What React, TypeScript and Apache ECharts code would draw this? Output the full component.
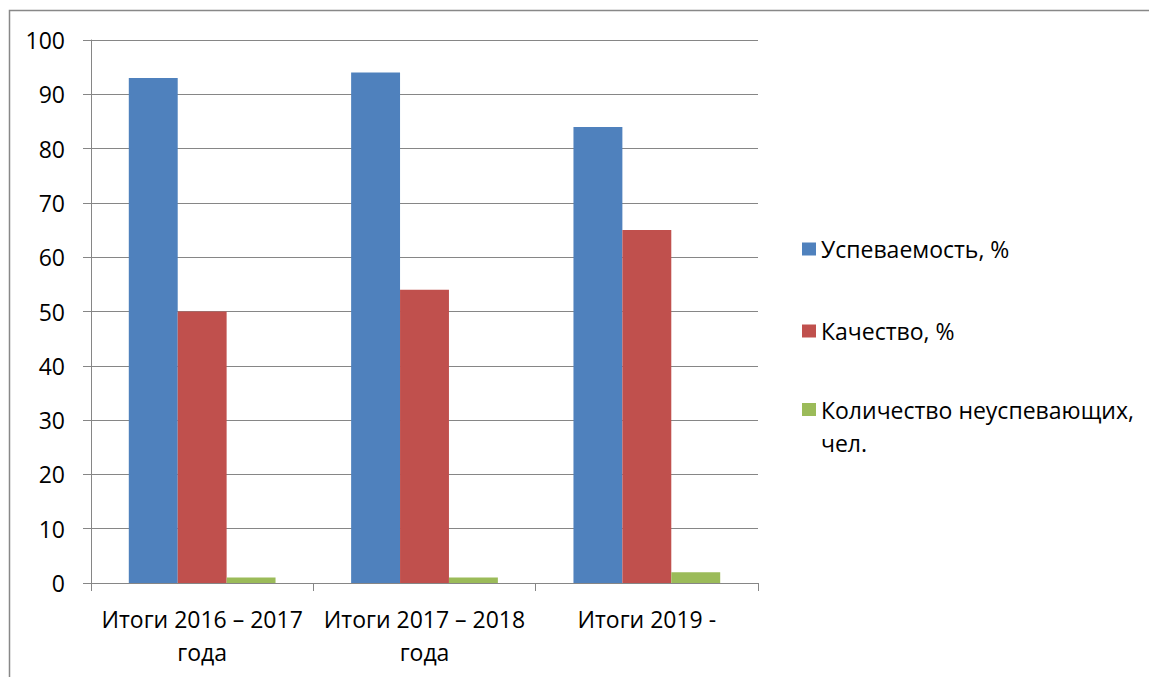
import React, { useEffect, useRef } from "react";
import * as echarts from "echarts";

const categories = ["Итоги 2016 – 2017\nгода", "Итоги 2017 – 2018\nгода", "Итоги 2019 -"];
const seriesNames = ["Успеваемость, %", "Качество, %", "Количество неуспевающих, чел."];
const uspevaemost = [93, 94, 84];
const kachestvo = [50, 54, 65];
const neuspev = [1, 1, 2];
const yTicks = [0, 10, 20, 30, 40, 50, 60, 70, 80, 90, 100];

const colors = ["#4F81BD", "#C0504D", "#9BBB59"];
const FONT = "Open Sans";
const FS = 23;

export default function App() {
  const ref = useRef<HTMLDivElement>(null);
  useEffect(() => {
    document.body.style.margin = "0";
    const chart = echarts.init(ref.current!, null, { renderer: "svg" });
    const legendBase = {
      orient: "vertical",
      left: 802,
      padding: 0,
      itemWidth: 14,
      itemHeight: 13,
      icon: "rect",
      selectedMode: false,
      textStyle: { fontFamily: FONT, fontSize: FS, color: "#000" },
    };
    chart.setOption({
      animation: false,
      backgroundColor: "#fff",
      graphic: [
        {
          type: "rect",
          shape: { x: 9.5, y: 10.5, width: 1200, height: 700 },
          style: { fill: "none", stroke: "#888", lineWidth: 1.5 },
          silent: true,
        },
      ],
      grid: { left: 91, right: 391, top: 40, bottom: 94, containLabel: false },
      legend: [
        {
          ...legendBase,
          top: 249 - 14,
          data: [seriesNames[0]],
          textStyle: { ...legendBase.textStyle, lineHeight: 28 },
        },
        {
          ...legendBase,
          top: 331 - 14,
          data: [seriesNames[1]],
          textStyle: { ...legendBase.textStyle, lineHeight: 28 },
        },
        {
          ...legendBase,
          top: 410 - 50,
          data: [seriesNames[2]],
          formatter: () => " \nКоличество неуспевающих,\nчел.",
          textStyle: { ...legendBase.textStyle, lineHeight: 33 },
        },
      ],
      xAxis: {
        type: "category",
        data: categories,
        axisLine: { lineStyle: { color: "#868686", width: 1 } },
        axisTick: { show: true, length: 8, lineStyle: { color: "#868686" } },
        axisLabel: {
          color: "#000",
          fontFamily: FONT,
          fontSize: FS,
          lineHeight: 33,
          margin: 19,
          interval: 0,
        },
        splitLine: { show: false },
      },
      yAxis: {
        type: "value",
        min: yTicks[0],
        max: yTicks[yTicks.length - 1],
        interval: 10,
        axisLine: { show: true, lineStyle: { color: "#868686", width: 1 } },
        axisTick: { show: true, length: 8, lineStyle: { color: "#868686" } },
        axisLabel: { color: "#000", fontFamily: FONT, fontSize: FS, margin: 26 },
        splitLine: { show: true, lineStyle: { color: "#868686", width: 1 } },
      },
      series: [
        { name: seriesNames[0], type: "bar", data: uspevaemost, itemStyle: { color: colors[0] }, barGap: "0%", barCategoryGap: "34%" },
        { name: seriesNames[1], type: "bar", data: kachestvo, itemStyle: { color: colors[1] }, barGap: "0%", barCategoryGap: "34%" },
        { name: seriesNames[2], type: "bar", data: neuspev, itemStyle: { color: colors[2] }, barGap: "0%", barCategoryGap: "34%" },
      ],
    });
    return () => chart.dispose();
  }, []);
  return <div ref={ref} style={{ width: 1149, height: 677 }} />;
}
